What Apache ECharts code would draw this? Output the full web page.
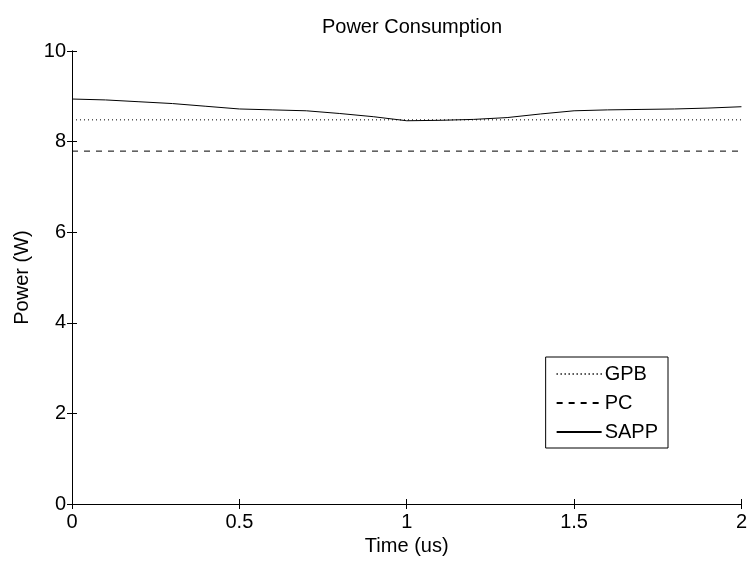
<!DOCTYPE html>
<html><head><meta charset="utf-8">
<script src="https://cdn.jsdelivr.net/npm/echarts@6/dist/echarts.min.js"></script>
<style>html,body{margin:0;padding:0;background:#fff}#c{width:750px;height:563px}</style>
</head><body><div id="c"></div>
<script>
const times = [0,0.1,0.2,0.3,0.4,0.5,0.6,0.7,0.8,0.9,1.0,1.1,1.2,1.3,1.4,1.5,1.6,1.7,1.8,1.9,2.0];
const sapp = [8.94,8.92,8.88,8.84,8.78,8.72,8.70,8.68,8.62,8.55,8.46,8.47,8.49,8.53,8.61,8.68,8.70,8.71,8.72,8.74,8.77];
const gpbTimes = [0,2];
const gpb = [8.48,8.48];
const pcTimes = [0,2];
const pc = [7.79,7.79];
const xTicks = [0,0.5,1,1.5,2];
const yTicks = [0,2,4,6,8,10];

const font = "'Liberation Sans', Arial, Helvetica, sans-serif";
const FS = 20;
const pair = (xs, ys) => xs.map((x,i)=>[x, ys[i]]);
const axisLineStyle = {color:'#000', width:1};
const chart = echarts.init(document.getElementById('c'));
chart.setOption({
  animation:false,
  backgroundColor:'#fff',
  title:{text:'Power Consumption', left:407, top:12, textAlign:'center',
    textStyle:{fontFamily:font, fontSize:FS, fontWeight:'normal', color:'#000'}},
  grid:{left:72, right:8, top:51, bottom:59},
  legend:{
    orient:'vertical', right:82, top:357,
    backgroundColor:'#fff', borderColor:'#000', borderWidth:1, borderRadius:0,
    padding:[7,10,6,10], itemGap:9, itemWidth:45, itemHeight:20,
    itemStyle:{opacity:0},
    textStyle:{fontFamily:font, fontSize:FS, color:'#000', padding:[0,0,0,-2]},
    data:['GPB','PC','SAPP']
  },
  xAxis:[{
    type:'value', min:0, max:2, interval:0.5,
    name:'Time (us)', nameLocation:'middle', nameGap:31,
    nameTextStyle:{fontFamily:font, fontSize:FS, color:'#000'},
    axisLine:{show:true, lineStyle:axisLineStyle},
    axisTick:{show:true, inside:true, length:5, lineStyle:axisLineStyle},
    axisLabel:{fontFamily:font, fontSize:FS, color:'#000', margin:8,
      formatter:v=>xTicks.includes(v)?String(v):''},
    splitLine:{show:false}
  },{
    type:'value', min:0, max:2, interval:0.5, position:'top',
    axisLine:{show:true, lineStyle:axisLineStyle},
    axisTick:{show:true, inside:true, length:5, lineStyle:axisLineStyle},
    axisLabel:{show:false}, splitLine:{show:false}
  }],
  yAxis:[{
    type:'value', min:0, max:10, interval:2,
    name:'Power (W)', nameLocation:'middle', nameGap:40, nameRotate:90,
    nameTextStyle:{fontFamily:font, fontSize:FS, color:'#000'},
    axisLine:{show:true, lineStyle:axisLineStyle},
    axisTick:{show:true, inside:true, length:5, lineStyle:axisLineStyle},
    axisLabel:{fontFamily:font, fontSize:FS, color:'#000', margin:6,
      formatter:v=>yTicks.includes(v)?String(v):''},
    splitLine:{show:false}
  },{
    type:'value', min:0, max:10, interval:2, position:'right',
    axisLine:{show:true, lineStyle:axisLineStyle},
    axisTick:{show:true, inside:true, length:5, lineStyle:axisLineStyle},
    axisLabel:{show:false}, splitLine:{show:false}
  }],
  series:[
    {name:'GPB', type:'line', data:pair(gpbTimes,gpb), symbol:'none', color:'#000',
      lineStyle:{color:'#000', width:1, type:[1,3]}},
    {name:'PC', type:'line', data:pair(pcTimes,pc), symbol:'none', color:'#000',
      lineStyle:{color:'#000', width:1, type:[6,6]}},
    {name:'SAPP', type:'line', data:pair(times,sapp), symbol:'none', color:'#000',
      lineStyle:{color:'#000', width:1, type:'solid'}}
  ]
});
</script></body></html>
